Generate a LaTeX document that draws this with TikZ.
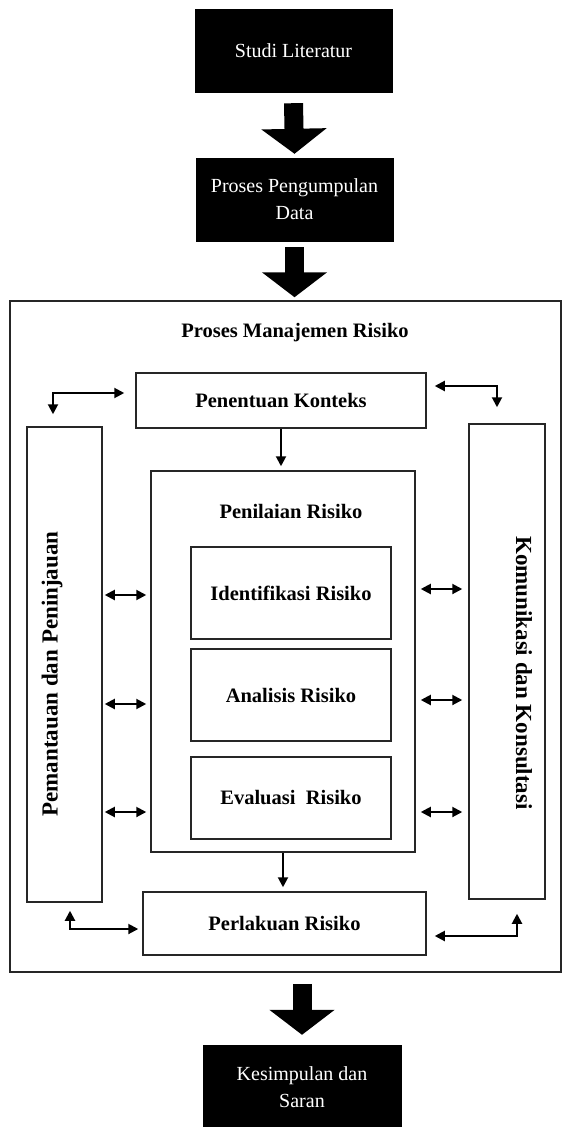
\documentclass[tikz,border=0pt]{standalone}
\usepackage{fontspec}
\setmainfont{Liberation Serif}
\usetikzlibrary{arrows.meta}

\begin{document}
\begin{tikzpicture}[x=1pt,y=-1pt,>={Triangle[length=10pt,width=10pt]},
  blackbox/.style={draw=black,fill=black,text=white,align=center,inner sep=0pt,font=\fontsize{20}{27}\selectfont},
  whitebox/.style={draw=black!85,line width=1.5pt,inner sep=0pt,font=\bfseries\fontsize{20.5}{24}\selectfont},
  sidetext/.style={font=\bfseries\fontsize{23}{24}\selectfont,inner sep=0pt},
  bigarrow/.style={line width=19pt,-{Triangle[length=25pt,width=64pt]}},
  smallarrow/.style={line width=2pt}]
\useasboundingbox (0,0) rectangle (563,1127);

\node[blackbox,minimum width=197pt,minimum height=83pt] (studi) at (293.5,50.5) {Studi Literatur};
\node[blackbox,minimum width=197pt,minimum height=83pt] (pengumpulan) at (294.5,199.5) {Proses Pengumpulan\\Data};

\node[whitebox,minimum width=551pt,minimum height=671pt] (manajemen) at (285.5,636.5) {};
\node[whitebox,draw=none] (judul) at (295,333) {Proses Manajemen Risiko};

\node[whitebox,minimum width=290pt,minimum height=55pt] (konteks) at (281,400.5) {Penentuan Konteks};
\node[whitebox,minimum width=264pt,minimum height=381pt] (penilaian) at (283,661.5) {};
\node[whitebox,draw=none] (penilaianjudul) at (291,511) {Penilaian Risiko};
\node[whitebox,minimum width=200pt,minimum height=92pt] (identifikasi) at (291,593) {Identifikasi Risiko};
\node[whitebox,minimum width=200pt,minimum height=92pt] (analisis) at (291,695) {Analisis Risiko};
\node[whitebox,minimum width=200pt,minimum height=82pt] (evaluasi) at (291,798) {Evaluasi\ \ Risiko};
\node[whitebox,minimum width=283pt,minimum height=63pt] (perlakuan) at (284.5,923.5) {Perlakuan Risiko};

\node[whitebox,minimum width=75pt,minimum height=475pt] (pemantauan) at (64.5,664.5) {};
\node[sidetext,rotate=90] (pemantauanteks) at (52,674) {Pemantauan dan Peninjauan};
\node[whitebox,minimum width=76pt,minimum height=475pt] (komunikasi) at (507,661.5) {};
\node[sidetext,rotate=-90] (komunikasiteks) at (524,673) {Komunikasi dan Konsultasi};

\node[blackbox,minimum width=198pt,minimum height=84pt] (kesimpulan) at (302,1087) {Kesimpulan dan\\Saran};

\draw[bigarrow] ([yshift=-11pt]studi.south) -- ([yshift=4pt]pengumpulan.north);
\draw[bigarrow] ([yshift=-6pt]pengumpulan.south) -- ([yshift=3pt]pengumpulan.south |- manajemen.north);
\draw[bigarrow] ([yshift=-11pt]manajemen.south -| kesimpulan) -- ([yshift=10pt]kesimpulan.north);

\draw[smallarrow,->] (konteks.south) -- ([yshift=4pt]konteks.south |- penilaian.north);
\draw[smallarrow,->] (penilaian.south) -- ([yshift=4pt]penilaian.south |- perlakuan.north);

\draw[smallarrow,<->] ([xshift=-11pt,yshift=7.5pt]konteks.west) -| ([xshift=-11.5pt,yshift=12pt]pemantauan.north);
\draw[smallarrow,<->] ([xshift=8pt,yshift=14.5pt]konteks.east) -| ([xshift=-10pt,yshift=16pt]komunikasi.north);
\draw[smallarrow,<->] ([xshift=5.5pt,yshift=-8pt]pemantauan.south) |- ([xshift=-4pt,yshift=-5.5pt]perlakuan.west);
\draw[smallarrow,<->] ([xshift=8pt,yshift=-12.5pt]perlakuan.east) -| ([xshift=10pt,yshift=-14pt]komunikasi.south);

\foreach \y in {595,704,812}
  \draw[smallarrow,<->] ([xshift=2pt]pemantauan.east |- 0,\y) -- ([xshift=-4pt]penilaian.west |- 0,\y);
\foreach \y in {589,700,812}
  \draw[smallarrow,<->] ([xshift=5pt]penilaian.east |- 0,\y) -- ([xshift=-6pt]komunikasi.west |- 0,\y);

\end{tikzpicture}
\end{document}
